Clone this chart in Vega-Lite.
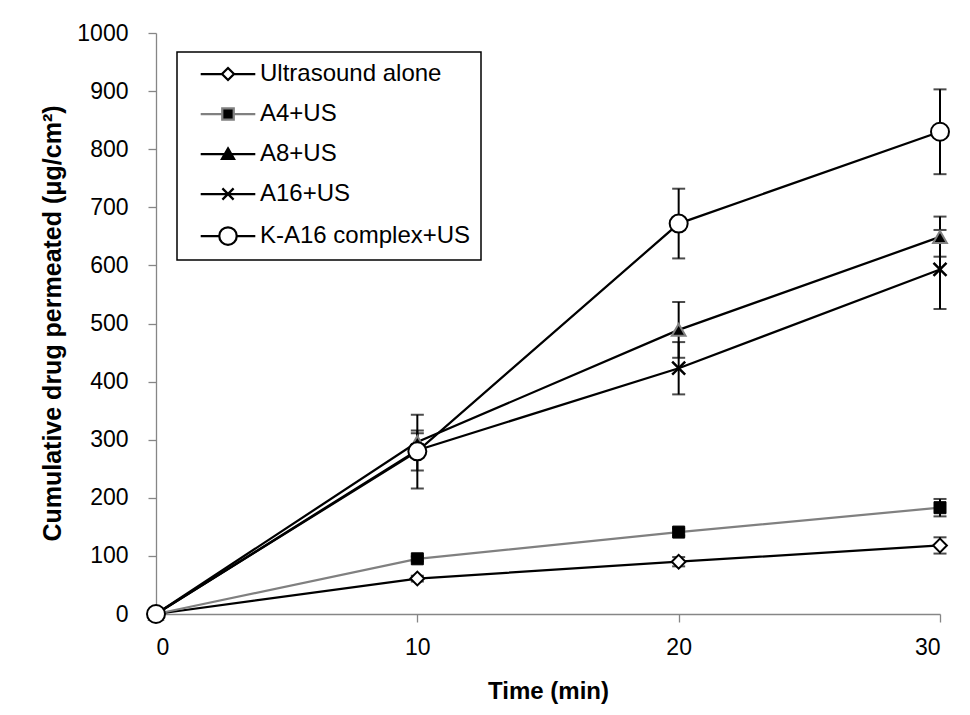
{
  "$schema": "https://vega.github.io/schema/vega-lite/v6.json",
  "autosize": {"type": "none"},
  "width": 784,
  "height": 581,
  "padding": {"left": 156, "top": 33, "right": 30, "bottom": 101},
  "background": "white",
  "config": {
    "view": {"stroke": null},
    "font": "Liberation Sans",
    "axis": {
      "grid": false,
      "domainColor": "#868686",
      "domainWidth": 1.3,
      "tickColor": "#868686",
      "tickWidth": 1.3,
      "tickSize": 8,
      "labelFont": "Liberation Sans",
      "labelFontSize": 23,
      "labelColor": "black",
      "titleFont": "Liberation Sans",
      "titleFontWeight": "bold",
      "titleColor": "black"
    }
  },
  "data": {
    "values": [
      {"t": 0, "series": "Ultrasound alone", "v": 0},
      {"t": 10, "series": "Ultrasound alone", "v": 61, "lo": 56, "hi": 66},
      {"t": 20, "series": "Ultrasound alone", "v": 90, "lo": 82, "hi": 98},
      {"t": 30, "series": "Ultrasound alone", "v": 118, "lo": 104, "hi": 132},
      {"t": 0, "series": "A4+US", "v": 0},
      {"t": 10, "series": "A4+US", "v": 95, "lo": 91, "hi": 99},
      {"t": 20, "series": "A4+US", "v": 141, "lo": 135, "hi": 147},
      {"t": 30, "series": "A4+US", "v": 183, "lo": 168, "hi": 198},
      {"t": 0, "series": "A8+US", "v": 0},
      {"t": 10, "series": "A8+US", "v": 296, "lo": 281, "hi": 311},
      {"t": 20, "series": "A8+US", "v": 489, "lo": 441, "hi": 537},
      {"t": 30, "series": "A8+US", "v": 649, "lo": 615, "hi": 684},
      {"t": 0, "series": "A16+US", "v": 0},
      {"t": 10, "series": "A16+US", "v": 282, "lo": 247, "hi": 316},
      {"t": 20, "series": "A16+US", "v": 423, "lo": 378, "hi": 468},
      {"t": 30, "series": "A16+US", "v": 593, "lo": 525, "hi": 661},
      {"t": 0, "series": "K-A16 complex+US", "v": 0},
      {"t": 10, "series": "K-A16 complex+US", "v": 280, "lo": 216, "hi": 343},
      {"t": 20, "series": "K-A16 complex+US", "v": 672, "lo": 612, "hi": 732},
      {"t": 30, "series": "K-A16 complex+US", "v": 830, "lo": 757, "hi": 903}
    ]
  },
  "encoding": {
    "x": {
      "field": "t", "type": "quantitative",
      "scale": {"domain": [0, 30], "nice": false, "zero": false},
      "axis": {
        "values": [0, 10, 20, 30],
        "title": "Time (min)",
        "titleFontSize": 24,
        "titleY": 77,
        "titleBaseline": "middle",
        "labelBaseline": "middle",
        "labelPadding": 25
      }
    },
    "y": {
      "field": "v", "type": "quantitative",
      "scale": {"domain": [0, 1000], "nice": false},
      "axis": {
        "values": [0, 100, 200, 300, 400, 500, 600, 700, 800, 900, 1000],
        "format": "d",
        "title": "Cumulative drug permeated (μg/cm²)",
        "titleFontSize": 25,
        "titleX": -104,
        "titleY": 290,
        "titleAngle": -90,
        "titleAlign": "center",
        "titleBaseline": "middle",
        "labelPadding": 20
      }
    }
  },
  "layer": [
    {
      "transform": [{"filter": "isValid(datum.lo)"}],
      "mark": {"type": "rule", "color": "black", "strokeWidth": 2},
      "encoding": {"y": {"field": "lo", "type": "quantitative"}, "y2": {"field": "hi"}}
    },
    {
      "transform": [{"filter": "isValid(datum.lo)"}],
      "mark": {"type": "tick", "orient": "horizontal", "color": "black", "size": 13, "thickness": 2},
      "encoding": {"y": {"field": "lo", "type": "quantitative"}}
    },
    {
      "transform": [{"filter": "isValid(datum.lo)"}],
      "mark": {"type": "tick", "orient": "horizontal", "color": "black", "size": 13, "thickness": 2},
      "encoding": {"y": {"field": "hi", "type": "quantitative"}}
    },
    {
      "mark": {"type": "line", "strokeWidth": 2.25},
      "encoding": {
        "stroke": {
          "field": "series", "type": "nominal",
          "scale": {
            "domain": ["Ultrasound alone", "A4+US", "A8+US", "A16+US", "K-A16 complex+US"],
            "range": ["black", "#808080", "black", "black", "black"]
          },
          "legend": {
            "orient": "none",
            "legendX": 21,
            "legendY": 19,
            "title": null,
            "padding": 10,
            "strokeColor": "black",
            "fillColor": "white",
            "symbolSize": 196,
            "symbolStrokeWidth": 2.25,
            "symbolOffset": 29,
            "labelOffset": 20,
            "rowPadding": 16,
            "labelFont": "Liberation Sans",
            "labelFontSize": 24,
            "labelLimit": 400,
            "labelColor": "black",
            "encode": {
              "legend": {"update": {"strokeWidth": {"value": 1.5}}},
              "symbols": {
                "update": {
                  "shape": {"signal": "datum.value === 'Ultrasound alone' ? 'M-3.9,0H-0.86M0.86,0H3.9M0,-0.86L0.86,0L0,0.86L-0.86,0Z' : datum.value === 'A4+US' ? 'M-3.9,0H-0.82M0.82,0H3.9M-0.82,-0.82H0.82V0.82H-0.82Z' : datum.value === 'A8+US' ? 'M-3.9,0H3.9M0,-0.8L0.86,0.7H-0.86Z' : datum.value === 'A16+US' ? 'M-3.9,0H3.9M-0.8,-0.8L0.8,0.8M0.8,-0.8L-0.8,0.8' : 'M-3.9,0H-1.25M1.25,0H3.9M1.25,0A1.25,1.25,0,1,1,-1.25,0A1.25,1.25,0,1,1,1.25,0Z'"},
                  "fill": {"signal": "(datum.value === 'A4+US' || datum.value === 'A8+US') ? 'black' : 'white'"},
                  "fillOpacity": {"value": 1}
                }
              }
            }
          }
        }
      }
    },
    {
      "transform": [{"filter": "datum.series === 'Ultrasound alone'"}],
      "mark": {"type": "point", "shape": "diamond", "size": 190, "filled": true, "fill": "white", "stroke": "black", "strokeWidth": 2, "opacity": 1}
    },
    {
      "transform": [{"filter": "datum.series === 'A4+US'"}],
      "mark": {"type": "point", "shape": "square", "size": 144, "filled": true, "fill": "black", "stroke": "black", "strokeWidth": 1, "opacity": 1}
    },
    {
      "transform": [{"filter": "datum.series === 'A8+US'"}],
      "mark": {"type": "point", "shape": "triangle-up", "size": 190, "filled": true, "fill": "black", "stroke": "#808080", "strokeWidth": 2, "opacity": 1}
    },
    {
      "transform": [{"filter": "datum.series === 'A16+US'"}],
      "mark": {"type": "point", "shape": "M-1,-1L1,1M1,-1L-1,1", "size": 169, "filled": false, "stroke": "black", "strokeWidth": 2.5, "opacity": 1}
    },
    {
      "transform": [{"filter": "datum.series === 'K-A16 complex+US'"}],
      "mark": {"type": "point", "shape": "circle", "size": 324, "filled": true, "fill": "white", "stroke": "black", "strokeWidth": 2, "opacity": 1}
    }
  ]
}
